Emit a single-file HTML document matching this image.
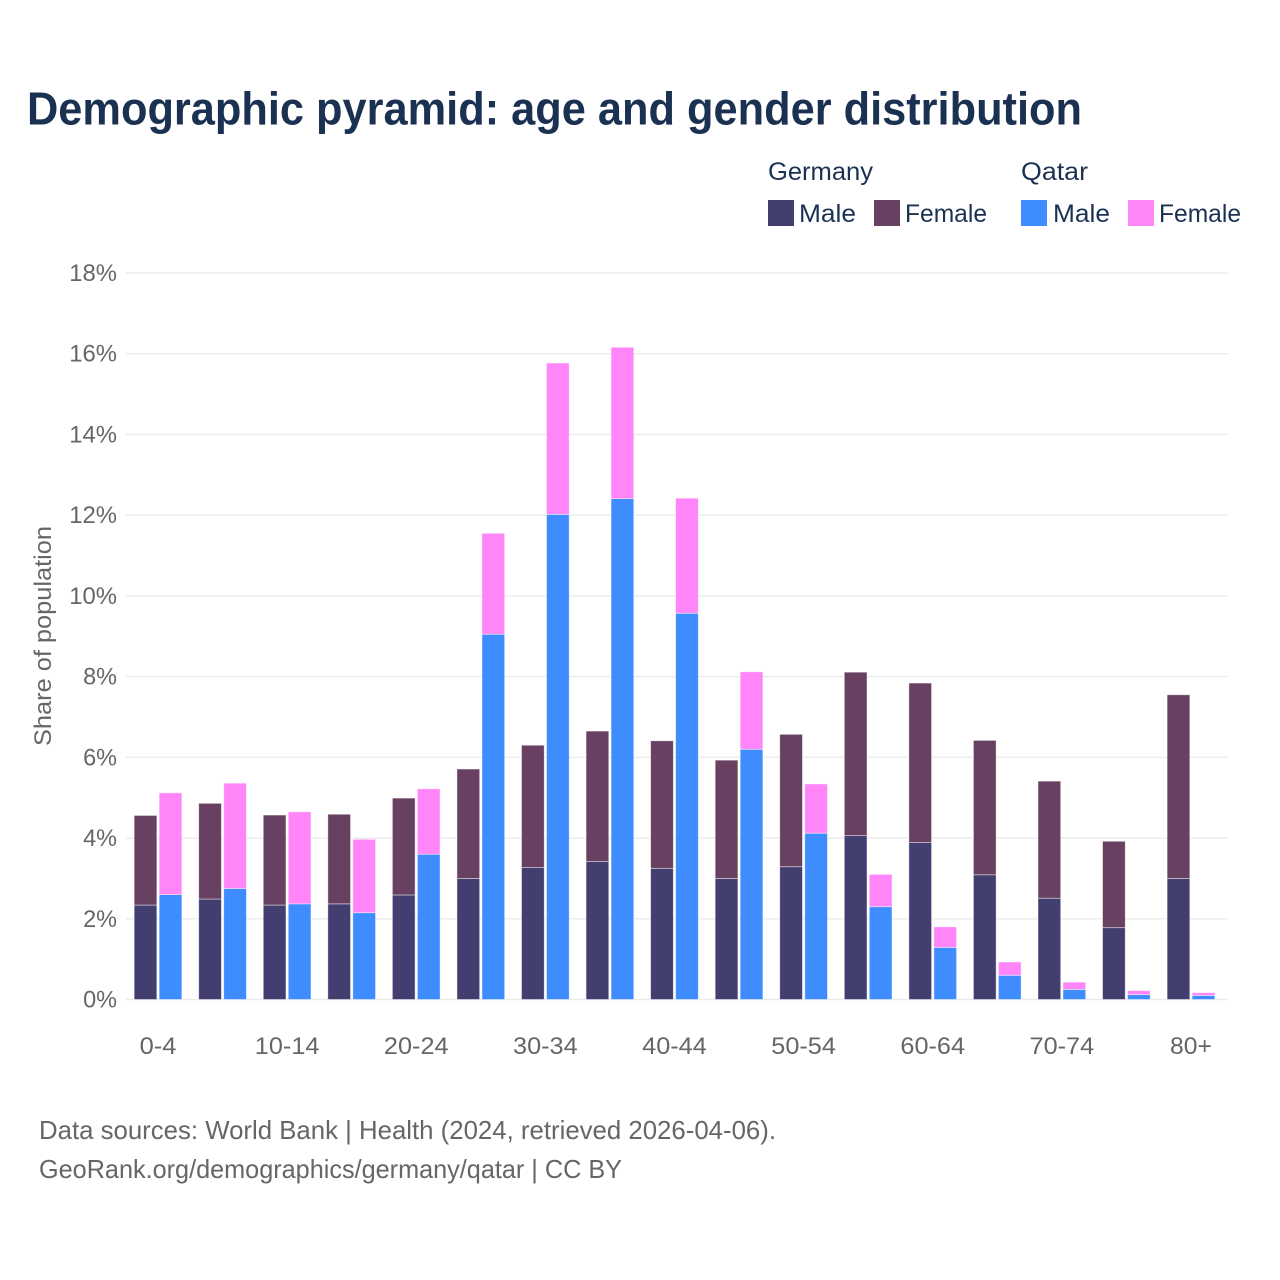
<!DOCTYPE html>
<html lang="en">
<head>
<meta charset="utf-8">
<title>Demographic pyramid</title>
<style>
html,body{margin:0;padding:0;background:#fff;}
svg{display:block;font-family:"Liberation Sans",sans-serif;}
</style>
</head>
<body>
<svg id="chart" xmlns="http://www.w3.org/2000/svg" width="1280" height="1280" viewBox="0 0 1280 1280">
  <rect width="1280" height="1280" fill="#fff"/>
  <text x="27" y="124.5" font-size="46" font-weight="700" fill="#1a3152" textLength="1055" lengthAdjust="spacingAndGlyphs">Demographic pyramid: age and gender distribution</text>

  <g font-size="25" fill="#1a3152">
    <text x="768" y="180" textLength="105" lengthAdjust="spacingAndGlyphs">Germany</text>
    <text x="1021" y="180" textLength="67" lengthAdjust="spacingAndGlyphs">Qatar</text>
    <g>
      <rect x="768" y="200" width="26" height="26" fill="#423e6f"/>
      <text x="799" y="222" textLength="57" lengthAdjust="spacingAndGlyphs">Male</text>
    </g>
    <g>
      <rect x="874" y="200" width="26" height="26" fill="#684061"/>
      <text x="905" y="222" textLength="82" lengthAdjust="spacingAndGlyphs">Female</text>
    </g>
    <g>
      <rect x="1021" y="200" width="26" height="26" fill="#3f8cff"/>
      <text x="1053" y="222" textLength="57" lengthAdjust="spacingAndGlyphs">Male</text>
    </g>
    <g>
      <rect x="1128" y="200" width="26" height="26" fill="#ff85f8"/>
      <text x="1159" y="222" textLength="82" lengthAdjust="spacingAndGlyphs">Female</text>
    </g>
  </g>

  <g id="grid"></g>
  <g id="yticks"></g>
  <g id="bars"></g>
  <g id="xticks"></g>

  <text transform="translate(51,636) rotate(-90)" text-anchor="middle" font-size="24" fill="#666" textLength="220" lengthAdjust="spacingAndGlyphs">Share of population</text>

  <text x="39" y="1139" font-size="26" fill="#666" textLength="737" lengthAdjust="spacingAndGlyphs">Data sources: World Bank | Health (2024, retrieved 2026-04-06).</text>
  <text x="39" y="1178" font-size="26" fill="#666" textLength="583" lengthAdjust="spacingAndGlyphs">GeoRank.org/demographics/germany/qatar | CC BY</text>
</svg>
<script>
const categories = ["0-4","5-9","10-14","15-19","20-24","25-29","30-34","35-39","40-44","45-49","50-54","55-59","60-64","65-69","70-74","75-79","80+"];
const germanyMale = [2.34,2.49,2.34,2.37,2.59,3.00,3.27,3.42,3.25,3.00,3.29,4.06,3.89,3.09,2.51,1.78,3.00];
const germanyFemale = [2.22,2.37,2.23,2.22,2.40,2.71,3.03,3.23,3.16,2.93,3.28,4.05,3.95,3.33,2.90,2.14,4.55];
const qatarMale = [2.60,2.75,2.37,2.15,3.60,9.05,12.02,12.41,9.57,6.20,4.12,2.30,1.29,0.60,0.25,0.12,0.10];
const qatarFemale = [2.52,2.61,2.28,1.82,1.62,2.50,3.75,3.75,2.85,1.92,1.22,0.80,0.51,0.33,0.18,0.10,0.07];
const yTicks = [0,2,4,6,8,10,12,14,16,18];

const NS = "http://www.w3.org/2000/svg";
const yScale = v => 999.5 - v * (726.5 / 18);
const xCenter = i => 158 + i * 64.56;
const BAR_W = 22.7, GAP = 2.3;

function make(tag, attrs, parent) {
  const el = document.createElementNS(NS, tag);
  for (const k in attrs) el.setAttribute(k, attrs[k]);
  parent.appendChild(el);
  return el;
}

const grid = document.getElementById("grid");
const yG = document.getElementById("yticks");
yTicks.forEach(t => {
  const y = yScale(t);
  const line = make("line", {x1:125.7, x2:1228, y1:y, y2:y, stroke:"#ebebeb", "stroke-width":1.4}, grid);
  
  
  const label = t + "%";
  const w = 13.9 * String(t).length + 20;
  const txt = make("text", {x:117 - w, y:y + 8, "font-size":24, fill:"#666", textLength:w, lengthAdjust:"spacingAndGlyphs"}, yG);
  txt.textContent = label;
  
  
});

const barsG = document.getElementById("bars");
function bar(x, base, value, fill, name) {
  const top = yScale(base + value), bottom = yScale(base);
  const r = make("rect", {x:x, y:top, width:BAR_W, height:bottom - top, fill:fill, stroke:"rgba(255,255,255,0.55)", "stroke-width":0.8}, barsG);
  
  
}
categories.forEach((c, i) => {
  const cx = xCenter(i);
  const gx = cx - GAP / 2 - BAR_W;
  const qx = cx + GAP / 2;
  bar(gx, 0, germanyMale[i], "#423e6f", "bar-germany-male");
  bar(gx, germanyMale[i], germanyFemale[i], "#684061", "bar-germany-female");
  bar(qx, 0, qatarMale[i], "#3f8cff", "bar-qatar-male");
  bar(qx, qatarMale[i], qatarFemale[i], "#ff85f8", "bar-qatar-female");
});

const xG = document.getElementById("xticks");
categories.forEach((c, i) => {
  if (i % 2 !== 0) return;
  const digits = c.replace(/[^0-9]/g, "").length;
  const w = digits * 13.9 + (c.includes("-") ? 9 : 0) + (c.includes("+") ? 14 : 0);
  const txt = make("text", {x:xCenter(i) - w / 2, y:1054, "font-size":24, fill:"#666", textLength:w, lengthAdjust:"spacingAndGlyphs"}, xG);
  txt.textContent = c;
  
  
});
</script>
</body>
</html>
